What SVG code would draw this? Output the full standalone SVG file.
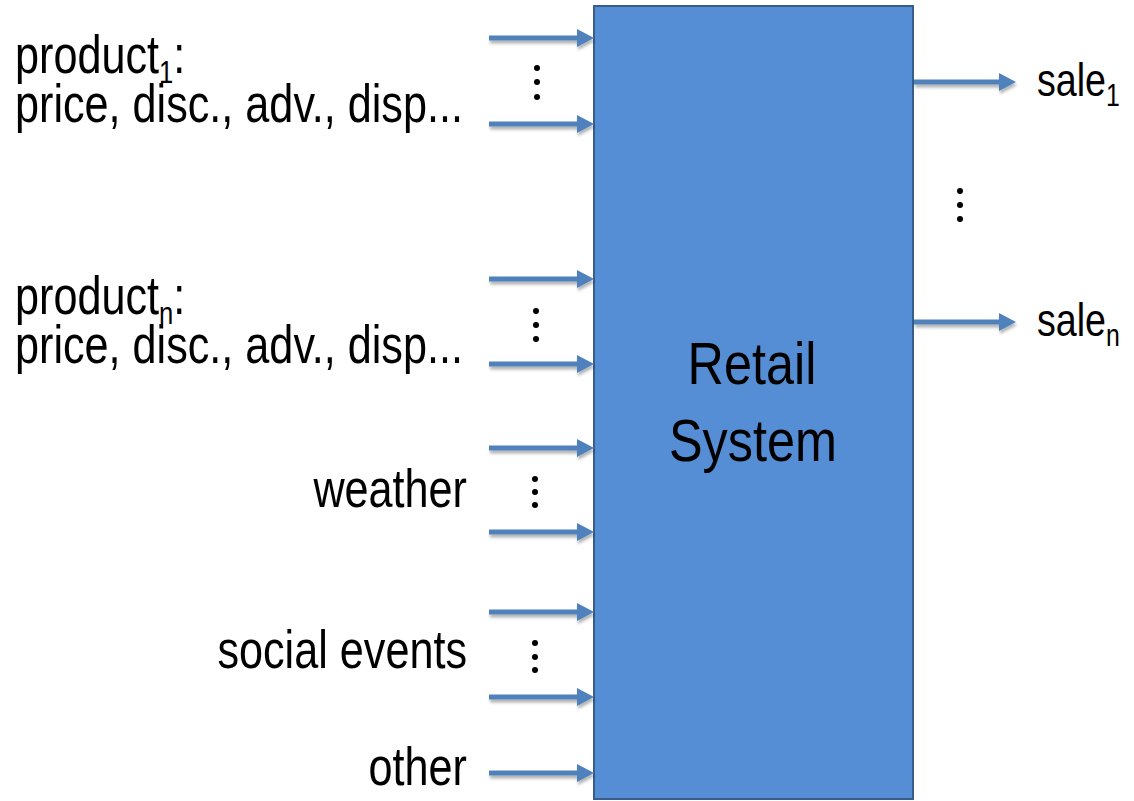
<svg xmlns="http://www.w3.org/2000/svg" width="1134" height="801" viewBox="0 0 1134 801">
  <defs>
    <marker id="ah" markerUnits="userSpaceOnUse" markerWidth="17" markerHeight="18" viewBox="0 0 17 18" refX="0" refY="9" orient="auto">
      <path d="M0,0 L17,9 L0,18 z" fill="#4F81BD"/>
    </marker>
    <filter id="sh" filterUnits="userSpaceOnUse" x="0" y="0" width="1134" height="801">
      <feDropShadow dx="1" dy="3" stdDeviation="1.6" flood-color="#000" flood-opacity="0.3"/>
    </filter>
    <style>
      .t { font-family: "Liberation Sans", Arial, sans-serif; font-size: 54px; fill: #000; }
      .big { font-size: 60px; }
      .sub { font-size: 32px; }
      .sale { font-size: 47px; }
      .ssub { font-size: 31px; }
      .arr { stroke: #4F81BD; stroke-width: 5; fill: none; marker-end: url(#ah); }
      .dot { fill: #000; }
    </style>
  </defs>

  <g id="retail-system">
    <rect x="594" y="6" width="319" height="793" fill="#558ED5" stroke="#385D8A" stroke-width="2"/>
    <text class="t big" text-anchor="middle" transform="translate(752,384) scale(0.84,1)">Retail</text>
    <text class="t big" text-anchor="middle" transform="translate(753,461) scale(0.84,1)">System</text>
  </g>

  <g id="product1">
    <text class="t" transform="translate(15,73) scale(0.8,1)">product<tspan class="sub" dy="10">1</tspan><tspan dy="-10">:</tspan></text>
    <text class="t" transform="translate(15,122) scale(0.8,1)">price, disc., adv., disp...</text>
  </g>

  <g id="productn">
    <text class="t" transform="translate(15,314) scale(0.8,1)">product<tspan class="sub" dy="10">n</tspan><tspan dy="-10">:</tspan></text>
    <text class="t" transform="translate(15,363) scale(0.8,1)">price, disc., adv., disp...</text>
  </g>

  <g id="weather">
    <text class="t" text-anchor="end" transform="translate(467,507) scale(0.8,1)">weather</text>
  </g>

  <g id="social-events">
    <text class="t" text-anchor="end" transform="translate(467,668) scale(0.8,1)">social events</text>
  </g>

  <g id="other">
    <text class="t" text-anchor="end" transform="translate(467,785) scale(0.8,1)">other</text>
  </g>

  <g id="sale1">
    <text class="t sale" transform="translate(1037,96) scale(0.8,1)">sale<tspan class="ssub" dy="10">1</tspan></text>
  </g>

  <g id="salen">
    <text class="t sale" transform="translate(1037,336) scale(0.8,1)">sale<tspan class="ssub" dy="10">n</tspan></text>
  </g>

  <g id="ellipses">
    <circle class="dot" cx="537" cy="68" r="3"/><circle class="dot" cx="537" cy="82" r="3"/><circle class="dot" cx="537" cy="97" r="3"/>
    <circle class="dot" cx="536" cy="311" r="3"/><circle class="dot" cx="536" cy="325" r="3"/><circle class="dot" cx="536" cy="339" r="3"/>
    <circle class="dot" cx="535" cy="479" r="3"/><circle class="dot" cx="535" cy="492" r="3"/><circle class="dot" cx="535" cy="505" r="3"/>
    <circle class="dot" cx="535" cy="643" r="3"/><circle class="dot" cx="535" cy="657" r="3"/><circle class="dot" cx="535" cy="670" r="3"/>
    <circle class="dot" cx="960" cy="191" r="3"/><circle class="dot" cx="960" cy="205" r="3"/><circle class="dot" cx="960" cy="219" r="3"/>
  </g>

  <g id="connectors" filter="url(#sh)">
    <line class="arr" x1="489" y1="38" x2="577" y2="38"/>
    <line class="arr" x1="489" y1="124" x2="577" y2="124"/>
    <line class="arr" x1="489" y1="279" x2="577" y2="279"/>
    <line class="arr" x1="489" y1="364" x2="577" y2="364"/>
    <line class="arr" x1="489" y1="448" x2="577" y2="448"/>
    <line class="arr" x1="489" y1="532" x2="577" y2="532"/>
    <line class="arr" x1="489" y1="612" x2="577" y2="612"/>
    <line class="arr" x1="489" y1="697" x2="577" y2="697"/>
    <line class="arr" x1="489" y1="773" x2="577" y2="773"/>
    <line class="arr" x1="914" y1="82" x2="999" y2="82"/>
    <line class="arr" x1="914" y1="322" x2="999" y2="322"/>
  </g>
</svg>
